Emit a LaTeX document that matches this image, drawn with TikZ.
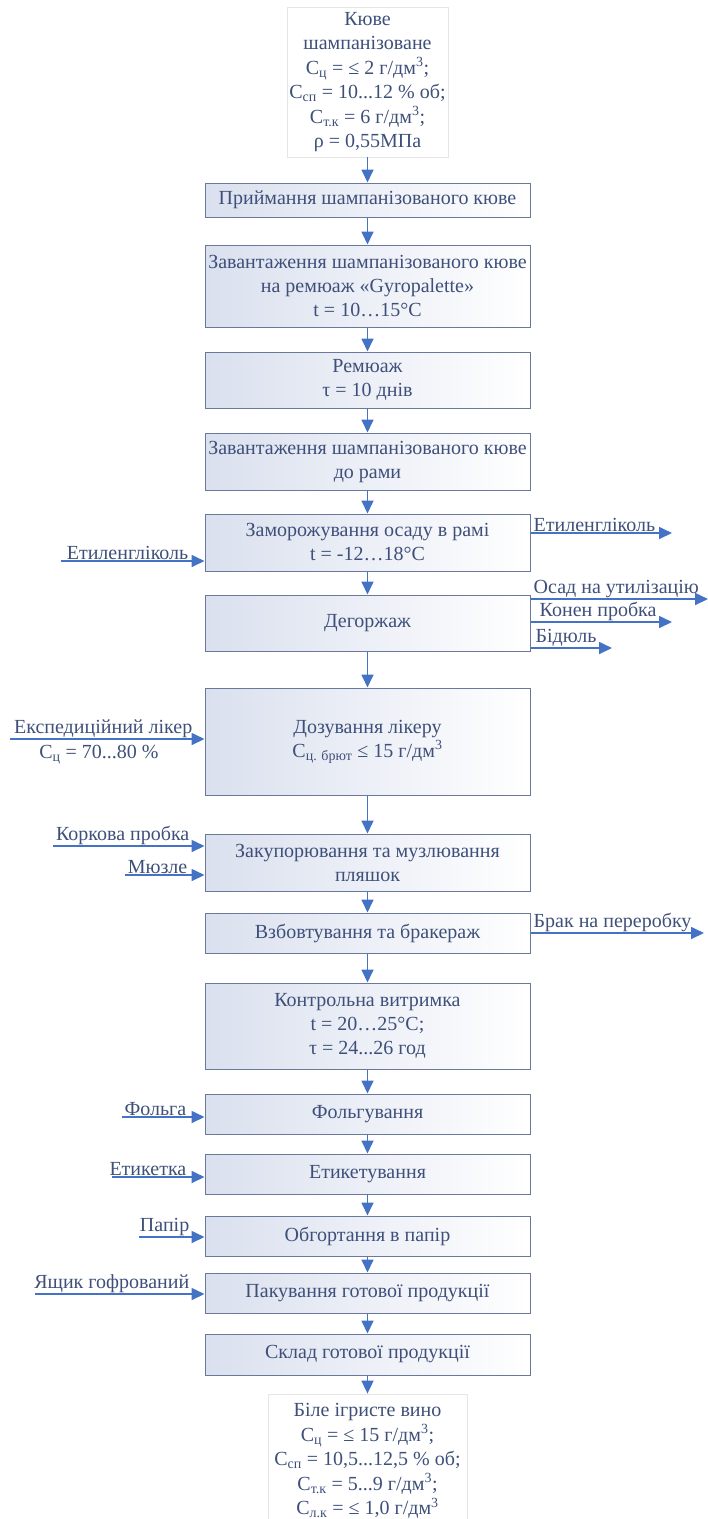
\documentclass[tikz,border=0pt]{standalone}
\usepackage{fontspec}
\setmainfont{Liberation Serif}
\usetikzlibrary{arrows.meta,positioning,calc}

\definecolor{flowblue}{RGB}{68,114,196}
\definecolor{boxline}{RGB}{105,120,155}
\definecolor{boxtint}{RGB}{218,224,238}
\definecolor{txtblue}{RGB}{62,80,122}

\tikzset{
  stage/.style={draw=boxline, line width=1pt, left color=boxtint, right color=white,
    minimum width=325pt, align=center, inner sep=2pt, text=txtblue,
    font=\fontsize{20}{24}\selectfont},
  product/.style={draw=black!10, line width=0.8pt, fill=white, align=center,
    inner sep=2pt, text=txtblue, font=\fontsize{20}{24.5}\selectfont},
  lbl/.style={inner xsep=3pt, inner ysep=1pt, text=txtblue, font=\fontsize{20}{22}\selectfont},
  flow/.style={draw=flowblue, line width=1.7pt, -{Triangle[length=13pt,width=12pt]}}
}

\begin{document}
\begin{tikzpicture}[x=1pt, y=-1pt]
\useasboundingbox (0,0) rectangle (708,1519);

\node[product, minimum width=161pt, minimum height=150pt] (cuvee) at (367.5, 82) {Кюве\\шампанізоване\\С\textsubscript{ц} = ≤ 2 г/дм\textsuperscript{3};\\С\textsubscript{сп} = 10...12 \% об;\\С\textsubscript{т.к} = 6 г/дм\textsuperscript{3};\\ρ = 0,55МПа};

\node[stage, minimum height=34pt] (receive) at (367.5, 200) {Приймання шампанізованого кюве};
\node[stage, minimum height=82pt] (loadgyro) at (367.5, 286) {Завантаження шампанізованого кюве\\на ремюаж «Gyropalette»\\t = 10…15°C};
\node[stage, minimum height=56pt] (remuage) at (367.5, 380) {Ремюаж\\τ = 10 днів};
\node[stage, minimum height=57pt] (loadframe) at (367.5, 461.5) {Завантаження шампанізованого кюве\\до рами};
\node[stage, minimum height=57pt] (freeze) at (367.5, 542.5) {Заморожування осаду в рамі\\t = -12…18°C};
\node[stage, minimum height=56pt] (degorge) at (367.5, 623) {Дегоржаж};
\node[stage, minimum height=107pt] (dosage) at (367.5, 741.5) {Дозування лікеру\\С\textsubscript{ц. брют} ≤ 15 г/дм\textsuperscript{3}};
\node[stage, minimum height=57pt] (corking) at (367.5, 862.5) {Закупорювання та музлювання\\пляшок};
\node[stage, minimum height=40pt] (shaking) at (367.5, 933) {Взбовтування та бракераж};
\node[stage, minimum height=86pt] (control) at (367.5, 1026) {Контрольна витримка\\t = 20…25°C;\\τ = 24...26 год};
\node[stage, minimum height=40pt] (foiling) at (367.5, 1114) {Фольгування};
\node[stage, minimum height=40pt] (labeling) at (367.5, 1174) {Етикетування};
\node[stage, minimum height=40pt] (wrapping) at (367.5, 1236) {Обгортання в папір};
\node[stage, minimum height=40pt] (packing) at (367.5, 1293) {Пакування готової продукції};
\node[stage, minimum height=41pt] (storage) at (367.5, 1354.5) {Склад готової продукції};

\node[product, minimum width=199pt, minimum height=134pt] (wine) at (367.5, 1461) {Біле ігристе вино\\С\textsubscript{ц} = ≤ 15 г/дм\textsuperscript{3};\\С\textsubscript{сп} = 10,5...12,5 \% об;\\С\textsubscript{т.к} = 5...9 г/дм\textsuperscript{3};\\С\textsubscript{л.к} = ≤ 1,0 г/дм\textsuperscript{3}};

\draw[flow] (cuvee) -- (receive);
\draw[flow] (receive) -- (loadgyro);
\draw[flow] (loadgyro) -- (remuage);
\draw[flow] (remuage) -- (loadframe);
\draw[flow] (loadframe) -- (freeze);
\draw[flow] (freeze) -- (degorge);
\draw[flow] (degorge) -- (dosage);
\draw[flow] (dosage) -- (corking);
\draw[flow] (corking) -- (shaking);
\draw[flow] (shaking) -- (control);
\draw[flow] (control) -- (foiling);
\draw[flow] (foiling) -- (labeling);
\draw[flow] (labeling) -- (wrapping);
\draw[flow] (wrapping) -- (packing);
\draw[flow] (packing) -- (storage);
\draw[flow] (storage) -- (wine);

% inputs from the left
\coordinate (glycolSrc) at (61, 561);
\coordinate (liqueurSrc) at (10, 739);
\coordinate (corkSrc) at (53, 846);
\coordinate (museletSrc) at (125, 875);
\coordinate (foilSrc) at (122, 1117);
\coordinate (labelSrc) at (112, 1177);
\coordinate (paperSrc) at (139, 1237);
\coordinate (boxSrc) at (35, 1294);

\node[lbl, anchor=south east] (glycolIn) at ([xshift=-13pt]glycolSrc -| freeze.west) {Етиленгліколь};
\node[lbl, anchor=south east] (liqueurIn) at ([xshift=-9pt]liqueurSrc -| dosage.west) {Експедиційний лікер};
\node[lbl, anchor=north] (sugarIn) at (99, 744) {С\textsubscript{ц} = 70...80 \%};
\node[lbl, anchor=south east] (corkIn) at ([xshift=-12pt]corkSrc -| corking.west) {Коркова пробка};
\node[lbl, anchor=south east] (museletIn) at ([xshift=-14pt]museletSrc -| corking.west) {Мюзле};
\node[lbl, anchor=south east] (foilIn) at ([xshift=-15pt]foilSrc -| foiling.west) {Фольга};
\node[lbl, anchor=south east] (labelIn) at ([xshift=-15pt]labelSrc -| labeling.west) {Етикетка};
\node[lbl, anchor=south east] (paperIn) at ([xshift=-12pt]paperSrc -| wrapping.west) {Папір};
\node[lbl, anchor=south east] (boxIn) at ([xshift=-12pt]boxSrc -| packing.west) {Ящик гофрований};

\draw[flow] (glycolSrc) -- (glycolSrc -| freeze.west);
\draw[flow] (liqueurSrc) -- (liqueurSrc -| dosage.west);
\draw[flow] (corkSrc) -- (corkSrc -| corking.west);
\draw[flow] (museletSrc) -- (museletSrc -| corking.west);
\draw[flow] (foilSrc) -- (foilSrc -| foiling.west);
\draw[flow] (labelSrc) -- (labelSrc -| labeling.west);
\draw[flow] (paperSrc) -- (paperSrc -| wrapping.west);
\draw[flow] (boxSrc) -- (boxSrc -| packing.west);

% outputs to the right
\coordinate (glycolTip) at (672, 533);
\coordinate (sedimentTip) at (708, 599);
\coordinate (plugTip) at (672, 622);
\coordinate (bidouleTip) at (612, 648);
\coordinate (rejectTip) at (704, 933);

\node[lbl, anchor=south west] (glycolOut) at (glycolTip -| freeze.east) {Етиленгліколь};
\node[lbl, anchor=south west] (sedimentOut) at (sedimentTip -| degorge.east) {Осад на утилізацію};
\node[lbl, anchor=south west] (plugOut) at ([xshift=6pt]plugTip -| degorge.east) {Конен пробка};
\node[lbl, anchor=south west] (bidouleOut) at ([xshift=2pt]bidouleTip -| degorge.east) {Бідюль};
\node[lbl, anchor=south west] (rejectOut) at (rejectTip -| shaking.east) {Брак на переробку};

\draw[flow] (glycolTip -| freeze.east) -- (glycolTip);
\draw[flow] (sedimentTip -| degorge.east) -- (sedimentTip);
\draw[flow] (plugTip -| degorge.east) -- (plugTip);
\draw[flow] (bidouleTip -| degorge.east) -- (bidouleTip);
\draw[flow] (rejectTip -| shaking.east) -- (rejectTip);

\end{tikzpicture}
\end{document}
